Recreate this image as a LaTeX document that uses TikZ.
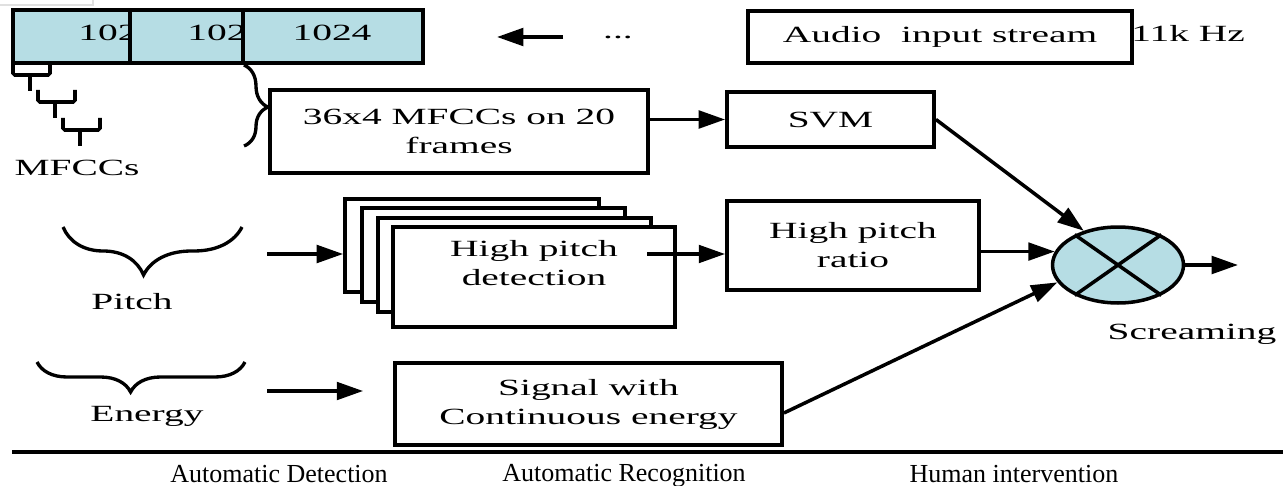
\documentclass[tikz,border=0pt]{standalone}
\usepackage{fontspec}
\setmainfont{Liberation Serif}
\newfontfamily\dgmfont[FakeStretch=1.7]{Liberation Serif}
\usetikzlibrary{arrows.meta,shapes.geometric,decorations.pathreplacing}
\definecolor{frameblue}{RGB}{182,221,228}
\newcommand{\dgm}{\dgmfont\fontsize{13.2pt}{16.5pt}\selectfont}
\def\fork(#1,#2){\draw[fork] (#1,#2) -- (#1,#2+12) -- (#1+37,#2+12) -- (#1+37,#2); \draw[fork] (#1+17,#2+12) -- (#1+17,#2+28);}
\tikzset{
	box/.style={draw, line width=2.2pt, fill=white, inner sep=0pt, align=center, font=\dgm},
	frame/.style={box, fill=frameblue, minimum height=1.06cm},
	lbl/.style={inner sep=0pt, align=center, font=\dgm},
	arr/.style={line width=2pt, -{Triangle[length=15pt,width=10pt]}},
	fork/.style={line width=2pt, rounded corners=1pt},
	curly/.style={line width=1.9pt, decorate, decoration={brace, amplitude=#1, aspect=0.45, mirror}},
	foot/.style={inner sep=0pt, font=\fontsize{14.8pt}{17pt}\selectfont}
}

\begin{document}
\begin{tikzpicture}[x=0.02cm, y=-0.02cm]
			%%%%% START %%%%%
			\useasboundingbox (0,0) rectangle (1283,486);
			\draw[black!12, line width=0.6pt] (0,5) -- (93,5) -- (93,0);
			
			\node[frame, minimum width=2.34cm] (f1) at (71.5,36.5) {};
			\node[lbl, anchor=west] (t1) at (78,33) {1024};
			\node[frame, minimum width=2.26cm] (f2) at (186.5,36.5) {};
			\node[lbl, anchor=west] (t2) at (187,33) {1024};
			\node[frame, minimum width=3.6cm] (f3) at (333,36.5) {};
			\node[lbl] (t3) at (332,33) {1024};
			
			\coordinate (s0) at (563,37);
			\coordinate (s1) at (497,37);
			\draw[arr] (s0) -- (s1);
			\node[lbl] (dots) at (618,37) {...};
			
			\node[box, minimum width=7.68cm, minimum height=1.04cm] (audio) at (940,37) {Audio~ input stream};
			\node[lbl, anchor=west] (rate) at (1131,33) {11k Hz};
			
			\fork(13,63)
			\fork(38,90)
			\fork(63,118)
			\node[lbl] (mfccs) at (77,168) {MFCCs};
			
			\draw[curly=0.48cm, decoration={aspect=0.48}] (244,146) -- (244,65);
			\node[box, minimum width=7.56cm, minimum height=1.66cm] (mfcc) at (459,131.5) {36x4 MFCCs on 20\\frames};
			\node[box, minimum width=4.14cm, minimum height=1.1cm] (svm) at (830.5,119.5) {SVM};
			\draw[arr] (svm.west -| mfcc.east) -- (svm.west);
			
			\draw[curly=0.96cm] (63,227) -- (242,227);
			\node[lbl] (pitch) at (132,302) {Pitch};
			\coordinate (p0) at (267,254);
			
			\node[box, minimum width=5.08cm, minimum height=1.86cm] (hp1) at (472,245.5) {};
			\node[box, minimum width=5.26cm, minimum height=1.88cm] (hp2) at (493.5,255) {};
			\node[box, minimum width=5.46cm, minimum height=1.88cm] (hp3) at (514.5,265) {};
			\node[box, minimum width=5.64cm, minimum height=2cm] (hp4) at (534,277) {};
			\node[lbl] (hptext) at (534,263) {High pitch\\detection};
			\draw[arr] (p0) -- (p0 -| hp1.west);
			
			\coordinate (hpout) at (647,254);
			\node[box, minimum width=5.04cm, minimum height=1.78cm] (ratio) at (853,245.5) {High pitch\\ratio};
			\draw[arr] (hpout) -- (hpout -| ratio.west);
			
			\node[draw, ellipse, line width=2pt, fill=frameblue, minimum width=2.62cm, minimum height=1.52cm, inner sep=0pt] (mix) at (1118,265) {};
			\draw[line width=2pt] (mix.35) -- (mix.215) (mix.145) -- (mix.325);
			\draw[arr] (mix.168 -| ratio.east) -- (mix.168);
			\draw[arr] (svm.east) -- (mix.135);
			\coordinate (out) at (1238,265);
			\draw[arr] (mix.east) -- (out);
			\node[lbl] (scream) at (1192,334) {Screaming};
			
			\draw[curly=0.6cm] (37,362) -- (245,362);
			\node[lbl] (energy) at (147,416) {Energy};
			\node[box, minimum width=7.74cm, minimum height=1.64cm] (sig) at (588.5,404) {Signal with\\Continuous energy};
			\coordinate (e0) at (267,391);
			\draw[arr, shorten >=0.6cm] (e0) -- (e0 -| sig.west);
			\draw[arr] ([yshift=-0.18cm]sig.east) -- (mix.196);
			
			\draw[line width=1.8pt] (12,452) -- (1283,452);
			\node[foot] (det) at (279,474) {Automatic Detection};
			\node[foot] (rec) at (624,476) {Automatic Recognition};
			\node[foot] (hum) at (1014,474) {Human intervention};
			%%%%% END %%%%%
\end{tikzpicture}
\end{document}
